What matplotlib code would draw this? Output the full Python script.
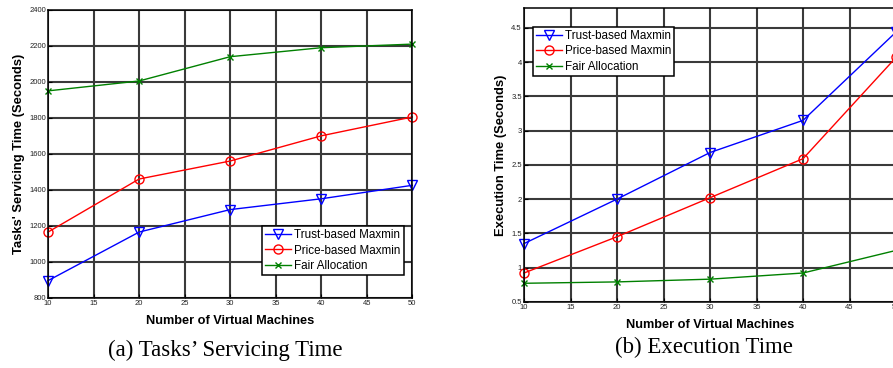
import numpy as np
import matplotlib
matplotlib.use('Agg')
import matplotlib.pyplot as plt

# data
vms = [10, 20, 30, 40, 50]

serv_trust = [895, 1165, 1290, 1350, 1425]
serv_price = [1165, 1460, 1560, 1700, 1805]
serv_fair = [1950, 2005, 2140, 2190, 2210]

exec_trust = [1.35, 2.0, 2.68, 3.15, 4.44]
exec_price = [0.92, 1.45, 2.02, 2.59, 4.07]
exec_fair = [0.77, 0.79, 0.83, 0.92, 1.25]

labels = ['Trust-based Maxmin', 'Price-based Maxmin', 'Fair Allocation']
xticks = [10, 15, 20, 25, 30, 35, 40, 45, 50]

plt.rcParams['font.family'] = ['Liberation Sans', 'DejaVu Sans']

fig = plt.figure(figsize=(8.93, 3.68), dpi=100)
ax1 = fig.add_axes([0.0538, 0.191, 0.4079, 0.782])
ax2 = fig.add_axes([0.5868, 0.180, 0.4166, 0.798])


def style(ax, ylabel):
    ax.grid(True, color='#3a3a3a', linewidth=1.5)
    ax.set_axisbelow(True)
    ax.set_xticks(xticks)
    ax.tick_params(labelsize=5.5, length=3, direction='in', pad=1.5, labelcolor='#222222')
    for s in ax.spines.values():
        s.set_linewidth(1.1)
    ax.set_xlabel('Number of Virtual Machines', fontsize=9.2, fontweight='bold', labelpad=6)
    ax.set_ylabel(ylabel, fontsize=9.4, fontweight='bold', labelpad=3)


def draw(ax, t, p, f):
    ax.plot(vms, t, color='blue', marker='v', markerfacecolor='none', markersize=6.5, lw=1, label=labels[0], clip_on=False)
    ax.plot(vms, p, color='red', marker='o', markerfacecolor='none', markersize=6.5, lw=1, label=labels[1], clip_on=False)
    ax.plot(vms, f, color='green', marker='x', markersize=4.5, lw=1, label=labels[2], clip_on=False)


draw(ax1, serv_trust, serv_price, serv_fair)
ax1.set_xlim(10, 50)
ax1.set_ylim(800, 2400)
ax1.set_yticks(np.arange(800, 2401, 200))
style(ax1, "Tasks' Servicing Time (Seconds)")
leg = ax1.legend(loc='lower right', bbox_to_anchor=(0.976, 0.08), fontsize=8.4, fancybox=False,
                 framealpha=1, edgecolor='black', borderpad=0.25, labelspacing=0.28,
                 handlelength=2.2, handletextpad=0.3, borderaxespad=0)
leg.get_frame().set_linewidth(1.1)

draw(ax2, exec_trust, exec_price, exec_fair)
ax2.set_xlim(10, 50)
ax2.set_ylim(0.5, 4.79)
ax2.set_yticks([0.5, 1, 1.5, 2, 2.5, 3, 3.5, 4, 4.5])
ax2.set_yticklabels(['0.5', '1', '1.5', '2', '2.5', '3', '3.5', '4', '4.5'])
style(ax2, 'Execution Time (Seconds)')
leg = ax2.legend(loc='upper left', bbox_to_anchor=(0.024, 0.935), fontsize=8.4, fancybox=False,
                 framealpha=1, edgecolor='black', borderpad=0.25, labelspacing=0.28,
                 handlelength=2.2, handletextpad=0.3, borderaxespad=0)
leg.get_frame().set_linewidth(1.1)

fig.text(0.252, 0.033, "(a) Tasks\u2019 Servicing Time", fontsize=16.5, family='Liberation Serif', ha='center')
fig.text(0.788, 0.04, '(b) Execution Time', fontsize=16.5, family='Liberation Serif', ha='center')

fig.savefig('out.png', dpi=100)
